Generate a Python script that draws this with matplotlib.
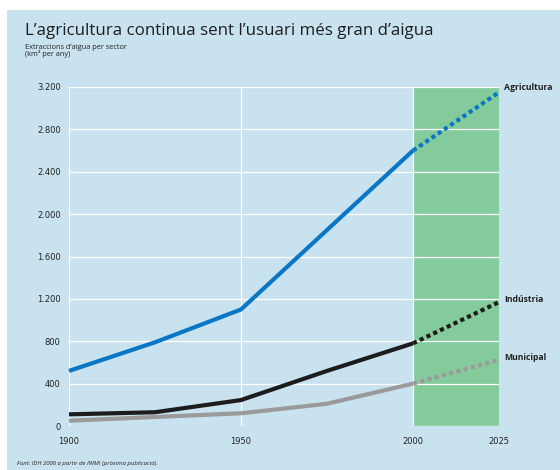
import matplotlib
matplotlib.use("Agg")
import matplotlib.pyplot as plt
from matplotlib.patches import Rectangle

years = [1900, 1925, 1950, 1975, 2000]
proj_years = [2000, 2025]
agricultura = [520, 790, 1100, 1850, 2600]
agricultura_proj = [2600, 3150]
industria = [110, 130, 245, 520, 780]
industria_proj = [780, 1170]
municipal = [50, 85, 120, 210, 400]
municipal_proj = [400, 625]
yticks = [0, 400, 800, 1200, 1600, 2000, 2400, 2800, 3200]
ytick_labels = ["0", "400", "800", "1.200", "1.600", "2.000", "2.400", "2.800", "3.200"]
xticks = [1900, 1950, 2000, 2025]
series_labels = ["Agricultura", "Indústria", "Municipal"]

W, H = 560, 470
fig = plt.figure(figsize=(W/100, H/100), dpi=100)
fig.patch.set_facecolor("white")
bg = "#c9e2ef"
fig.patches.append(Rectangle((7/W, 0), 1, 1 - 10/H, transform=fig.transFigure,
                             facecolor=bg, edgecolor="none", zorder=-10))

ax = fig.add_axes([69/W, 1 - 426/H, (499-69)/W, (426-87)/H])
ax.set_facecolor(bg)
ax.set_xlim(1900, 2025)
ax.set_ylim(0, 3200)
ax.axvspan(2000, 2025, color="#84cb9c", zorder=0, lw=0)
for y in yticks:
    ax.axhline(y, color="white", lw=0.9, zorder=1)
for x in [1900, 1950, 2000]:
    ax.axvline(x, color="white", lw=0.9, zorder=1)
for s in ax.spines.values():
    s.set_visible(False)

cols = ["#0a77c6", "#1c1c1c", "#9a9a9a"]
hist = [agricultura, industria, municipal]
proj = [agricultura_proj, industria_proj, municipal_proj]
for c, h, p in zip(cols, hist, proj):
    ax.plot(years, h, color=c, lw=3.0, solid_capstyle="butt", solid_joinstyle="round", zorder=3, clip_on=False)
    ax.plot(proj_years, p, color=c, lw=3.0, linestyle=(0, (1, 0.8)), dash_capstyle="butt", zorder=3, clip_on=False)

ax.set_yticks(yticks)
ax.set_yticklabels(ytick_labels)
ax.set_xticks(xticks)
ax.set_xticklabels([str(x) for x in xticks])
ax.tick_params(length=0, labelsize=6, colors="#222222", pad=6)
ax.tick_params(axis="x", pad=8)

label_y = [3200, industria_proj[1] + 20, municipal_proj[1] + 20]
for lab, ly in zip(series_labels, label_y):
    ax.text(2026.5, ly, lab, fontsize=6.2, color="#222222", fontweight="bold",
            va="center", ha="left", clip_on=False, family="Open Sans")

fig.text(25/W, 1 - 31/H, "L’agricultura continua sent l’usuari més gran d’aigua",
         fontsize=12.2, color="#1e1e1e", va="center", ha="left", family="Open Sans")
fig.text(25/W, 1 - 51/H, "Extraccions d’aigua per sector\n(km³ per any)",
         fontsize=5.3, color="#222222", va="center", ha="left", family="Open Sans", linespacing=0.95)
fig.text(17/W, 1 - 464/H, "Font: IDH 2006 a partir de IWMI (pròxima publicació).",
         fontsize=4.3, color="#222222", va="center", ha="left", style="italic", family="Open Sans")

fig.savefig("out.png", dpi=100, facecolor="white")
